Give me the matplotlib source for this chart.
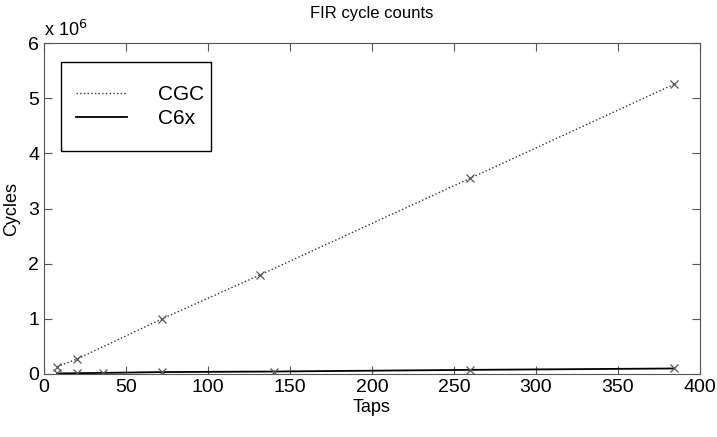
import matplotlib
matplotlib.use("Agg")
import matplotlib.pyplot as plt
from matplotlib.patches import Rectangle

plt.rcParams['font.family'] = ['Liberation Sans', 'DejaVu Sans']

cgc_taps = [8, 20, 72, 132, 260, 384]
cgc_cycles = [0.13e6, 0.27e6, 1.0e6, 1.8e6, 3.55e6, 5.25e6]

c6x_taps = [8, 20, 36, 72, 140, 260, 384]
c6x_cycles = [0.01e6, 0.015e6, 0.02e6, 0.035e6, 0.045e6, 0.075e6, 0.1e6]

fig = plt.figure(figsize=(7.17, 4.37), dpi=100)
ax = fig.add_axes([44/717, 1-374/437, 656/717, 331/437])

ax.plot(cgc_taps, cgc_cycles, ':', color='#333333', lw=1, label='CGC')
ax.plot(c6x_taps, c6x_cycles, '-', color='black', lw=1.3, label='C6x')
ax.plot(cgc_taps, cgc_cycles, 'x', color='#555555', ms=6, mew=0.9)
ax.plot(c6x_taps, c6x_cycles, 'x', color='#555555', ms=6, mew=0.9)

ax.set_xlim(0, 400)
ax.set_ylim(0, 6e6)
ax.set_xticks(range(0, 401, 50))
ax.set_yticks([i*1e6 for i in range(7)])
ax.set_yticklabels([str(i) for i in range(7)])
ax.tick_params(direction='in', top=True, right=True, labelsize=14, length=6, color='#555555')
for s in ax.spines.values():
    s.set_color('#555555')

ax.text(0.0, 1.01, 'x 10$^6$', transform=ax.transAxes, fontsize=13, va='bottom', ha='left')
ax.set_title('FIR cycle counts', fontsize=12, pad=18)
ax.set_xlabel('Taps', fontsize=13, labelpad=2)
ax.set_ylabel('Cycles', fontsize=13, labelpad=6)

# legend box drawn separately so its padding can differ horizontally/vertically
bx0, bx1 = 17/656, 167/656
by0, by1 = 223/331, 312/331
ax.add_patch(Rectangle((bx0, by0), bx1 - bx0, by1 - by0, transform=ax.transAxes,
                       facecolor='white', edgecolor='black', lw=1, zorder=4))
leg = ax.legend(loc='center left', bbox_to_anchor=(bx0, by0, bx1 - bx0, by1 - by0),
                borderaxespad=0, fontsize=15, frameon=False,
                handlelength=2.45, handletextpad=1.5, borderpad=0.7, labelspacing=0.25)
leg.set_zorder(5)

fig.savefig('out.png', dpi=100)
